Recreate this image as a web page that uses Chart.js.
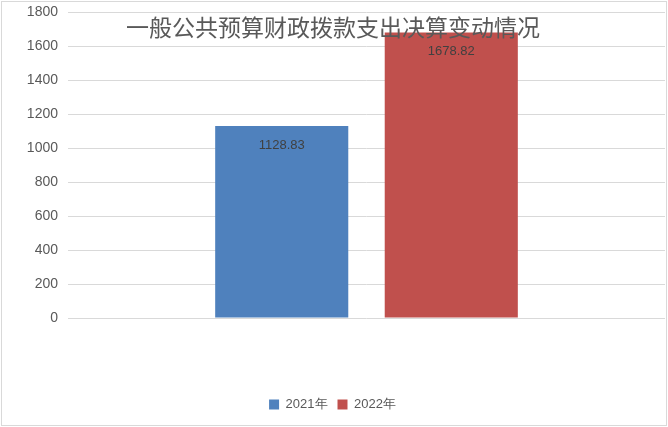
<!DOCTYPE html>
<html>
<head>
<meta charset="utf-8">
<script src="https://cdn.jsdelivr.net/npm/chart.js@4.4.0/dist/chart.umd.min.js"></script>
<style>
  html, body { margin: 0; padding: 0; background: #fff; }
  #wrap { width: 668px; height: 427px; }
</style>
</head>
<body>
<div id="wrap"><canvas id="chart" width="668" height="427"></canvas></div>
<script>
const categories = [''];
const seriesNames = ['2021年', '2022年'];
const values2021 = [1128.83];
const values2022 = [1678.82];
const yTicks = [0, 200, 400, 600, 800, 1000, 1200, 1400, 1600, 1800];
const titleText = '一般公共预算财政拨款支出决算变动情况';

const frame = {
  id: 'frame',
  beforeDraw(chart) {
    const ctx = chart.ctx;
    ctx.save();
    ctx.fillStyle = '#fff';
    ctx.fillRect(0, 0, chart.width, chart.height);
    ctx.restore();
  },
  afterDraw(chart) {
    const ctx = chart.ctx;
    ctx.save();
    ctx.strokeStyle = '#d9d9d9';
    ctx.lineWidth = 1;
    ctx.strokeRect(1.5, 1.5, chart.width - 3, chart.height - 3);
    // title sits over the plot
    ctx.fillStyle = '#595959';
    ctx.font = '23px "Noto Sans CJK SC"';
    ctx.textAlign = 'center';
    ctx.textBaseline = 'middle';
    ctx.fillText(titleText, 333, 27);
    // value labels inside bars
    ctx.font = '13px "Liberation Sans", Calibri, sans-serif';
    ctx.fillStyle = '#404040';
    chart.data.datasets.forEach((ds, i) => {
      chart.getDatasetMeta(i).data.forEach((bar, j) => {
        ctx.fillText(ds.data[j].toFixed(2), bar.x, bar.y + 19);
      });
    });
    ctx.restore();
  }
};

new Chart(document.getElementById('chart'), {
  type: 'bar',
  data: {
    labels: categories,
    datasets: [
      { label: seriesNames[0], data: values2021, backgroundColor: '#4F81BD' },
      { label: seriesNames[1], data: values2022, backgroundColor: '#C0504D' }
    ]
  },
  options: {
    responsive: false,
    animation: false,
    events: [],
    categoryPercentage: 0.568,
    barPercentage: 0.785,
    layout: { padding: { top: 12, right: 3, bottom: 6, left: 0 } },
    plugins: {
      title: { display: false },
      tooltip: { enabled: false },
      legend: {
        position: 'bottom',
        labels: {
          boxWidth: 10,
          boxHeight: 10,
          padding: 10,
          color: '#595959',
          font: { size: 13, family: '"Liberation Sans", sans-serif' }
        }
      }
    },
    scales: {
      x: {
        ticks: { display: false },
        grid: { display: false },
        border: { display: false },
        afterFit(scale) { scale.height = 70; }
      },
      y: {
        min: 0,
        max: 1800,
        afterBuildTicks(scale) { scale.ticks = yTicks.map(v => ({ value: v })); },
        ticks: {
          padding: 10,
          color: '#595959',
          font: { size: 14, family: '"Liberation Sans", sans-serif' },
          callback: v => String(v)
        },
        grid: { color: '#d9d9d9', drawTicks: false },
        border: { display: false },
        afterFit(scale) {
          scale.width = 68;
          scale.paddingTop = 0;
          scale.paddingBottom = 0;
        }
      }
    }
  },
  plugins: [frame]
});
</script>
</body>
</html>
